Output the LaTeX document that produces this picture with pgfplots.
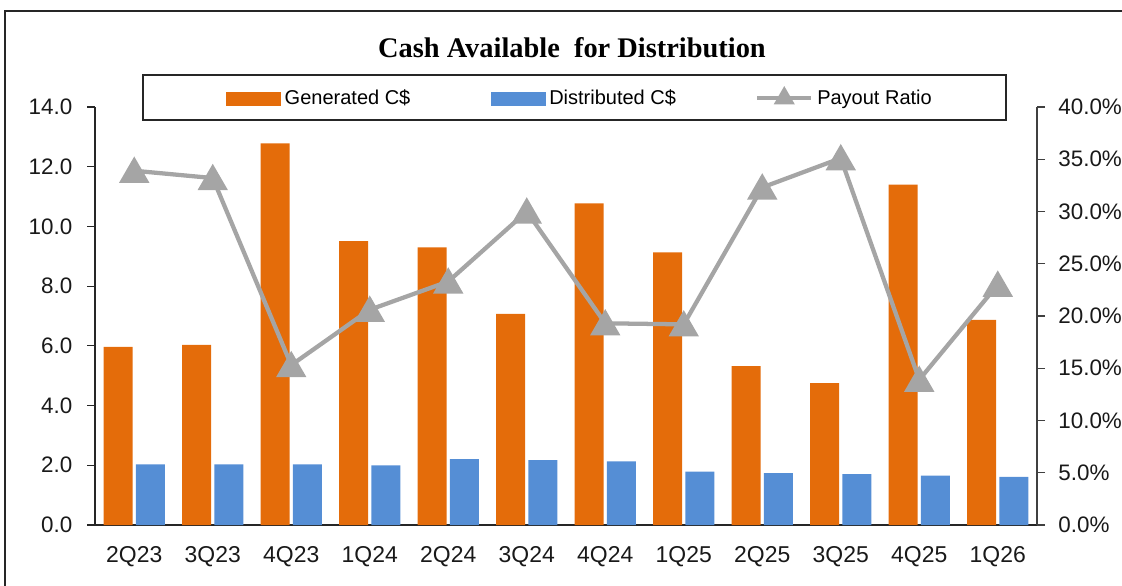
\documentclass[border=0pt]{standalone}
\usepackage{pgfplots}
\pgfplotsset{compat=1.18}
\usepackage{fontspec}
\setmainfont{Liberation Sans}
\newfontfamily\titlefont{Liberation Serif}
\definecolor{genC}{HTML}{E46C0A}
\definecolor{disC}{HTML}{558ED5}
\definecolor{payC}{HTML}{A5A5A5}

\begin{document}
\begin{tikzpicture}
\useasboundingbox (0,0) rectangle (841.5pt,439.5pt);
\draw[line width=1pt, black!85] (3.75pt,0pt) -- (3.75pt,431.25pt) -- (841.5pt,431.25pt);
\node[font=\titlefont\bfseries\fontsize{21.3}{25}\selectfont] at (429pt,403.5pt) {Cash Available\ \ for Distribution};
\draw[black!85, line width=0.9pt, fill=white] (107.25pt,349.5pt) rectangle (754.5pt,383.25pt);

\begin{axis}[
  at={(71.25pt,45.75pt)}, anchor=south west,
  scale only axis, width=706.5pt, height=313.5pt,
  xmin=-0.5, xmax=11.5, ymin=0, ymax=14,
  axis y line*=left, axis x line*=bottom,
  axis line style={black!85, line width=0.9pt},
  xtick={0,...,11},
  xticklabels={2Q23,3Q23,4Q23,1Q24,2Q24,3Q24,4Q24,1Q25,2Q25,3Q25,4Q25,1Q26},
  x tick style={draw=none},
  ytick={0,2,...,14},
  tick align=outside, major tick length=6pt,
  y tick style={black!85, line width=0.9pt},
  /pgf/number format/assume math mode=true,
  y tick label style={/pgf/number format/fixed, /pgf/number format/fixed zerofill, /pgf/number format/precision=1, xshift=-7.5pt},
  tick label style={font=\fontsize{16.8}{19}\selectfont, black!90},
  x tick label style={yshift=-6.5pt, font=\fontsize{17.2}{19}\selectfont},
  clip=false,
]
\addplot[ybar, bar width=21.75pt, bar shift=-12.15pt, fill=genC, draw=none] coordinates {
 (0,5.97) (1,6.03) (2,12.78) (3,9.51) (4,9.30) (5,7.07) (6,10.77) (7,9.13) (8,5.32) (9,4.75) (10,11.40) (11,6.87)};
\addplot[ybar, bar width=21.75pt, bar shift=12.15pt, fill=disC, draw=none] coordinates {
 (0,2.03) (1,2.03) (2,2.03) (3,2.00) (4,2.21) (5,2.17) (6,2.13) (7,1.79) (8,1.74) (9,1.70) (10,1.65) (11,1.61)};
\end{axis}

\begin{axis}[
  at={(71.25pt,45.75pt)}, anchor=south west,
  scale only axis, width=706.5pt, height=313.5pt,
  xmin=-0.5, xmax=11.5, ymin=0, ymax=40,
  axis y line*=right, axis x line=none,
  axis line style={black!75, line width=0.9pt},
  ytick={0,5,...,40},
  tick align=outside, major tick length=6pt,
  y tick style={black!75, line width=0.9pt},
  /pgf/number format/assume math mode=true,
  yticklabel={\pgfmathprintnumber[fixed,fixed zerofill,precision=1]{\tick}\%},
  tick label style={font=\fontsize{16.8}{19}\selectfont, black!90},
  y tick label style={xshift=6.5pt},
  clip=false,
  legend columns=3,
  legend cell align=left,
  legend style={draw=none, fill=none, at={(0.139,1.0228)}, anchor=west,
    font=\fontsize{15}{18}\selectfont, inner sep=0pt, nodes={inner sep=0pt},
    /tikz/every odd column/.append style={column sep=3pt},
    /tikz/every even column/.append style={column sep=14.5pt}},
]
\addlegendimage{legend image code/.code={\fill[genC] (0pt,-4.875pt) rectangle (40.5pt,4.875pt);}}
\addlegendentry{\makebox[140pt][l]{Generated C\$}}
\addlegendimage{legend image code/.code={\fill[disC] (0pt,-4.875pt) rectangle (40.5pt,4.875pt);}}
\addlegendentry{\makebox[140pt][l]{Distributed C\$}}
\addplot[payC, line width=3.2pt, mark=triangle*, mark size=10pt, mark options={draw=none, fill=payC, yshift=-2.5pt},
  legend image code/.code={\draw[payC,line width=3pt] (0pt,0pt) -- (40.5pt,0pt);
    \fill[payC] (20.25pt,0pt) +(0pt,6pt) -- +(-5.2pt,-3pt) -- +(5.2pt,-3pt) -- cycle;}]
 coordinates {
 (0,33.9) (1,33.2) (2,15.3) (3,20.6) (4,23.3) (5,30.0) (6,19.3) (7,19.2) (8,32.3) (9,35.1) (10,13.9) (11,23.0)};
\addlegendentry{\makebox[120pt][l]{Payout Ratio}}
\end{axis}
\end{tikzpicture}
\end{document}
